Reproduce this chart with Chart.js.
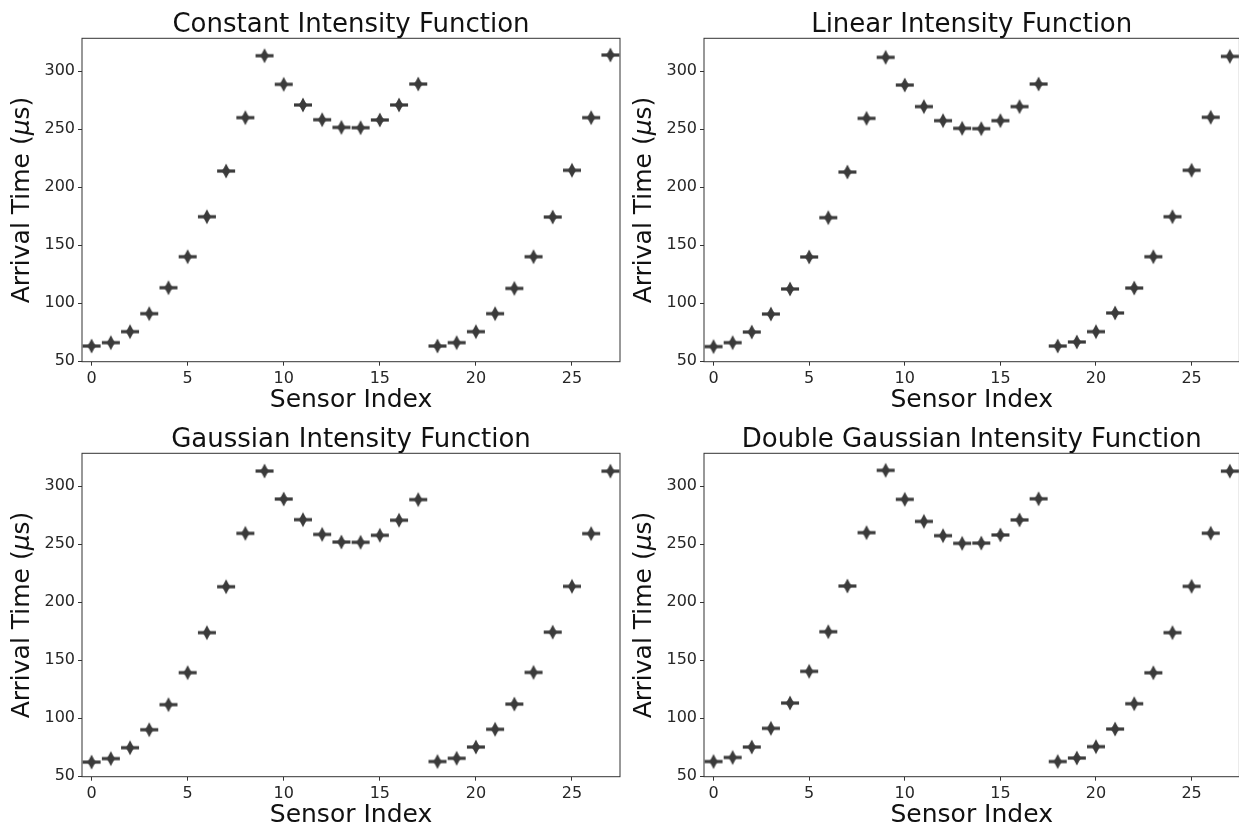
<!DOCTYPE html>
<html>
<head>
<meta charset="utf-8">
<script src="https://cdn.jsdelivr.net/npm/chart.js@4.4.1/dist/chart.umd.min.js"></script>
<style>
  html, body { margin: 0; padding: 0; background: #fff; overflow: hidden; }
  .panel { position: absolute; width: 640px; height: 415px; }
</style>
</head>
<body>
<div class="panel" style="left:0;top:0"><canvas id="c0"></canvas></div>
<div class="panel" style="left:622px;top:0"><canvas id="c1"></canvas></div>
<div class="panel" style="left:0;top:415px"><canvas id="c2"></canvas></div>
<div class="panel" style="left:622px;top:415px"><canvas id="c3"></canvas></div>
<script>
// sensor indices and arrival times (µs) per intensity model
const sensorIdx = [0, 1, 2, 3, 4, 5, 6, 7, 8, 9, 10, 11, 12, 13,
                   14, 15, 16, 17, 18, 19, 20, 21, 22, 23, 24, 25, 26, 27];
const constantT = [62.9, 65.8, 75.3, 90.8, 113.2, 139.9, 174.4, 213.8, 259.8, 313.2, 288.5, 270.7, 258.0, 251.4,
                   251.1, 257.8, 270.7, 288.8, 62.9, 65.8, 75.3, 90.8, 112.6, 139.9, 174.1, 214.4, 259.8, 313.8];
const linearT   = [62.4, 65.8, 75.0, 90.5, 112.1, 139.7, 173.6, 212.9, 259.2, 311.8, 287.9, 269.3, 257.2, 250.6,
                   250.3, 257.2, 269.3, 288.8, 62.9, 66.4, 75.3, 91.4, 112.9, 139.9, 174.4, 214.4, 260.1, 312.6];
const gaussianT = [62.0, 65.0, 74.4, 89.9, 111.5, 139.1, 173.6, 213.2, 259.2, 312.9, 288.8, 271.0, 258.3, 251.7,
                   251.5, 257.5, 270.5, 288.3, 62.5, 65.3, 75.0, 90.3, 112.0, 139.3, 174.0, 213.5, 259.0, 312.8];
const doubleGaussT = [62.5, 66.0, 75.0, 91.1, 112.9, 140.2, 174.4, 213.8, 259.8, 313.5, 288.5, 269.5, 257.2, 250.6,
                   250.8, 257.8, 270.8, 289.0, 62.5, 65.5, 75.3, 90.5, 112.3, 139.0, 173.6, 213.5, 259.3, 312.8];

const xTicks = [0, 5, 10, 15, 20, 25];
const yTicks = [50, 100, 150, 200, 250, 300];

const FONT = "'DejaVu Sans', sans-serif";
const INK = '#3b3b3b';

// small star-like marker (narrow vertical spread + wide horizontal bar)
function makeMarker() {
  const c = document.createElement('canvas');
  c.width = 22; c.height = 18;
  const g = c.getContext('2d');
  g.translate(11, 9);
  g.fillStyle = INK;
  g.beginPath();
  g.moveTo(0, -7.5);
  g.quadraticCurveTo(2.2, -2.6, 4.5, 0);
  g.quadraticCurveTo(2.2, 2.6, 0, 7.5);
  g.quadraticCurveTo(-2.2, 2.6, -4.5, 0);
  g.quadraticCurveTo(-2.2, -2.6, 0, -7.5);
  g.fill();
  g.fillRect(-9, -1.6, 18, 3.2);
  return c;
}
const marker = makeMarker();

// box around the plotting area
const framePlugin = {
  id: 'frame',
  beforeDatasetsDraw(chart) {
    const a = chart.chartArea, ctx = chart.ctx;
    ctx.save();
    ctx.strokeStyle = '#333';
    ctx.lineWidth = 1;
    ctx.strokeRect(a.left, a.top, a.right - a.left, a.bottom - a.top);
    ctx.restore();
  }
};

// panel title centred over the plot, y label with italic mu
const labelPlugin = {
  id: 'labels',
  afterDraw(chart, args, opts) {
    const a = chart.chartArea, ctx = chart.ctx;
    ctx.save();
    ctx.fillStyle = '#111';
    ctx.font = '26px ' + FONT;
    ctx.textAlign = 'center';
    ctx.textBaseline = 'alphabetic';
    ctx.fillText(opts.text, (a.left + a.right) / 2, 31.7);

    const parts = [['Arrival Time (', 'normal'], ['μ', 'italic'], ['s)', 'normal']];
    const fontOf = st => (st === 'italic' ? 'italic ' : '') + '25px ' + FONT;
    let total = 0;
    parts.forEach(p => { ctx.font = fontOf(p[1]); total += ctx.measureText(p[0]).width; });
    ctx.translate(22, (a.top + a.bottom) / 2);
    ctx.rotate(-Math.PI / 2);
    ctx.textAlign = 'left';
    ctx.textBaseline = 'middle';
    let x = -total / 2;
    parts.forEach(p => {
      ctx.font = fontOf(p[1]);
      ctx.fillText(p[0], x, 0);
      x += ctx.measureText(p[0]).width;
    });
    ctx.restore();
  }
};

function makePanel(id, title, values, padRight) {
  const ctx = document.getElementById(id).getContext('2d');
  return new Chart(ctx, {
    type: 'scatter',
    data: {
      datasets: [{
        data: sensorIdx.map((s, i) => ({ x: s, y: values[i] })),
        pointStyle: marker,
        pointRadius: 8,
        pointHoverRadius: 8
      }]
    },
    options: {
      responsive: true,
      maintainAspectRatio: false,
      animation: false,
      layout: { padding: { left: 0, right: padRight, top: 38.3, bottom: 0 } },
      plugins: {
        legend: { display: false },
        tooltip: { enabled: false },
        title: { display: false },
        labels: { text: title }
      },
      scales: {
        x: {
          type: 'linear',
          min: -0.5,
          max: 27.5,
          afterBuildTicks: s => { s.ticks = xTicks.map(v => ({ value: v })); },
          afterFit: s => { s.height = 53.3; },
          grid: { drawOnChartArea: false, drawTicks: true, tickLength: 4, color: '#333' },
          border: { display: false },
          ticks: { color: '#262626', padding: 3.5, maxRotation: 0, font: { family: FONT, size: 16 } },
          title: {
            display: true,
            text: 'Sensor Index',
            color: '#111',
            font: { family: FONT, size: 25, lineHeight: 1.2 },
            padding: { top: 0, bottom: 0 }
          }
        },
        y: {
          min: 49.4,
          max: 328.2,
          afterBuildTicks: s => { s.ticks = yTicks.map(v => ({ value: v })); },
          afterFit: s => { s.width = 82; },
          grid: { drawOnChartArea: false, drawTicks: true, tickLength: 4, color: '#333' },
          border: { display: false },
          ticks: { color: '#262626', padding: 3, font: { family: FONT, size: 16 } },
          title: { display: false }
        }
      }
    },
    plugins: [framePlugin, labelPlugin]
  });
}

makePanel('c0', 'Constant Intensity Function', constantT, 20);
makePanel('c1', 'Linear Intensity Function', linearT, 22.6);
makePanel('c2', 'Gaussian Intensity Function', gaussianT, 20);
makePanel('c3', 'Double Gaussian Intensity Function', doubleGaussT, 22.6);
</script>
</body>
</html>
